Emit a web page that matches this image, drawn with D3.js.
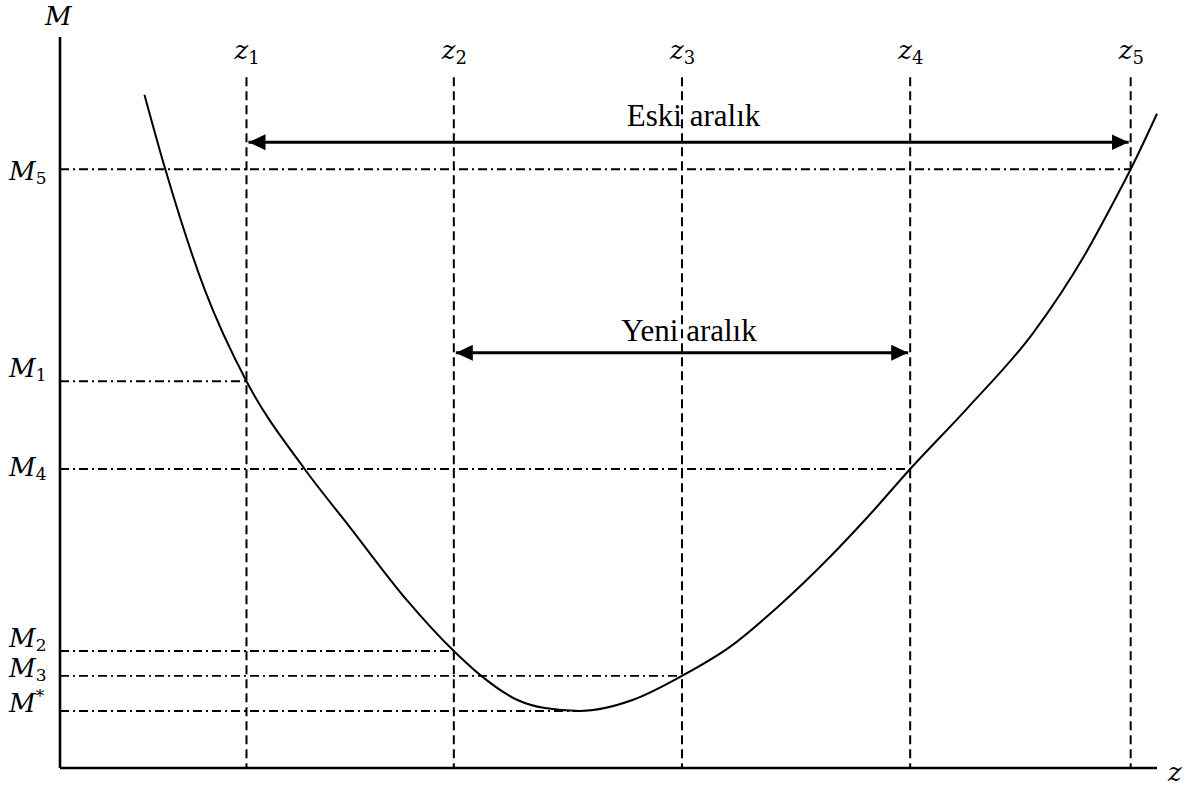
<!DOCTYPE html>
<html>
<head>
<meta charset="utf-8">
<script src="https://cdn.jsdelivr.net/npm/d3@7"></script>
<style>
  html, body { margin: 0; padding: 0; background: #fff; }
  svg { display: block; }
</style>
</head>
<body>
<svg id="chart" width="1195" height="787"></svg>
<script>
// Objective function M(z) sampled along the search variable z
const curveZ = [0.77, 0.96, 1.32, 1.70, 2.23, 2.64, 3.16, 3.59, 3.84, 4.17, 4.42, 4.74,
                5.22, 5.67, 6.11, 6.54, 7.02, 7.36, 7.75, 8.27, 8.87, 9.33, 9.60, 9.76, 10.0];
const curveM = [9.21, 8.19, 6.54, 5.29, 4.09, 3.30, 2.30, 1.60, 1.26, 0.93, 0.82, 0.78,
                0.93, 1.26, 1.66, 2.20, 2.89, 3.43, 4.09, 4.92, 5.95, 6.99, 7.73, 8.19, 8.95];

// Trial points z1..z5
const zNames = ["1", "2", "3", "4", "5"];
const zValues = [1.70, 3.59, 5.67, 7.75, 9.76];

// Horizontal reference levels: label subscript, level, z where the guide ends
const levelNames = ["5", "1", "4", "2", "3", "*"];
const levelValues = [8.19, 5.29, 4.09, 1.60, 1.26, 0.78];
const levelEnds = [9.76, 1.70, 7.75, 3.59, 5.67, 4.74];

// Interval annotations: [from, to] in z and the height of the arrow
const intervalNames = ["Eski aralık", "Yeni aralık"];
const intervalFrom = [1.70, 3.59];
const intervalTo = [9.76, 7.75];
const intervalLevel = [8.56, 5.68];

const serif = "'Liberation Serif', 'Times New Roman', Times, serif";
const mathFont = "'DejaVu Serif', 'Liberation Serif', serif";

const svg = d3.select("#chart");

const x = d3.scaleLinear().domain([0, 10]).range([60, 1157]);
const y = d3.scaleLinear().domain([0, 10]).range([768, 37]);

// arrow heads
const defs = svg.append("defs");
["end", "start"].forEach(kind => {
  defs.append("marker")
    .attr("id", "head-" + kind)
    .attr("markerUnits", "userSpaceOnUse")
    .attr("markerWidth", 18).attr("markerHeight", 18)
    .attr("refX", kind === "end" ? 17 : 0).attr("refY", 8)
    .attr("orient", "auto")
    .append("path")
    .attr("d", kind === "end" ? "M0,0 L17,8 L0,16 Z" : "M17,0 L0,8 L17,16 Z")
    .attr("fill", "#000");
});

// interval captions (drawn first so guide lines pass over them)
intervalNames.forEach((name, i) => {
  const mid = (x(intervalFrom[i]) + x(intervalTo[i])) / 2;
  svg.append("text")
    .attr("font-family", serif)
    .attr("x", mid + (i === 0 ? 5 : 7))
    .attr("y", y(intervalLevel[i]) - (i === 0 ? 16 : 12))
    .attr("text-anchor", "middle")
    .attr("font-size", 31)
    .attr("fill", "#000")
    .text(name);
});

// vertical dashed guides at the trial points
svg.append("g").selectAll("line")
  .data(zValues)
  .join("line")
  .attr("x1", d => x(d)).attr("x2", d => x(d))
  .attr("y1", y(9.45)).attr("y2", y(0))
  .attr("stroke", "#000").attr("stroke-width", 2)
  .attr("stroke-dasharray", "9,5");

// horizontal dash-dot guides at the function values
svg.append("g").selectAll("line")
  .data(levelValues)
  .join("line")
  .attr("x1", x(0)).attr("x2", (d, i) => x(levelEnds[i]))
  .attr("y1", d => y(d)).attr("y2", d => y(d))
  .attr("stroke", "#000").attr("stroke-width", 1.9)
  .attr("stroke-dasharray", "9,4,2,4");

// interval arrows
intervalNames.forEach((name, i) => {
  svg.append("line")
    .attr("x1", x(intervalFrom[i]) + 2).attr("x2", x(intervalTo[i]) - 2)
    .attr("y1", y(intervalLevel[i])).attr("y2", y(intervalLevel[i]))
    .attr("stroke", "#000").attr("stroke-width", 3)
    .attr("marker-start", "url(#head-start)")
    .attr("marker-end", "url(#head-end)");
});

// the function curve
const line = d3.line()
  .x((d, i) => x(curveZ[i]))
  .y(d => y(d))
  .curve(d3.curveMonotoneX);

svg.append("path")
  .datum(curveM)
  .attr("d", line)
  .attr("fill", "none")
  .attr("stroke", "#000")
  .attr("stroke-width", 2);

// axes
svg.append("line")
  .attr("x1", x(0)).attr("x2", x(0))
  .attr("y1", y(10)).attr("y2", y(0))
  .attr("stroke", "#000").attr("stroke-width", 2.6);
svg.append("line")
  .attr("x1", x(0)).attr("x2", x(10))
  .attr("y1", y(0)).attr("y2", y(0))
  .attr("stroke", "#000").attr("stroke-width", 2.6);

function mathText(px, py, size) {
  return svg.append("text")
    .attr("font-family", mathFont)
    .attr("font-style", "italic")
    .attr("font-size", size)
    .attr("fill", "#000")
    .attr("x", px).attr("y", py);
}

// axis names
mathText(45, 25, 26).text("M");
mathText(1168, 781, 26).text("z");

// z labels
zValues.forEach((v, i) => {
  const t = mathText(x(v) - 12, 59, 26);
  t.append("tspan").text("z");
  t.append("tspan").attr("font-style", "normal").attr("font-size", 18)
    .attr("dy", 5).text(zNames[i]);
});

// M labels along the vertical axis
const labelShift = [11, -4, 7, -4, 1, 1];
levelValues.forEach((v, i) => {
  const t = mathText(9, y(v) + labelShift[i], 26);
  t.append("tspan").text("M");
  if (levelNames[i] === "*") {
    t.append("tspan").attr("font-style", "normal").attr("font-size", 17)
      .attr("dy", -10).text("*");
  } else {
    t.append("tspan").attr("font-style", "normal").attr("font-size", 17)
      .attr("dy", 4).text(levelNames[i]);
  }
});
</script>
</body>
</html>
